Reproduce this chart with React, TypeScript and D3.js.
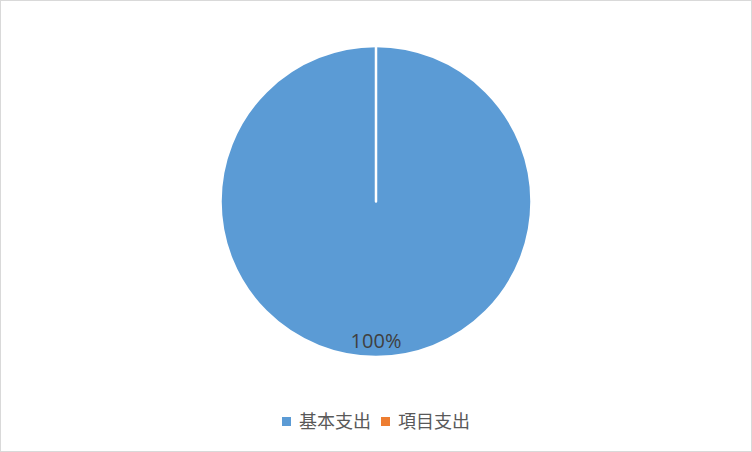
import * as d3 from 'd3'

// 数据
const categories = ['基本支出', '項目支出']
const values = [100, 0]
const colors = ['#5B9BD5', '#ED7D31']

const W = 752
const H = 452
const cx = 376
const cy = 201.5
const R = 155.5

export default function App(): JSX.Element {
  const pie = d3.pie<number>().sort(null).value(d => d)
  const arcs = pie(values)
  const arc = d3.arc<d3.PieArcDatum<number>>().innerRadius(0).outerRadius(R)
  const labelArc = d3.arc<d3.PieArcDatum<number>>().innerRadius(R * 0.9).outerRadius(R * 0.9)
  const total = d3.sum(values)

  // 凡例の位置
  const legendX = d3.scalePoint<string>().domain(categories).range([282, 381])

  return (
    <svg width={W} height={H} style={{ position: 'absolute', left: 0, top: 0, background: '#fff' }}
      fontFamily="'Noto Sans CJK TC', 'Noto Sans', sans-serif">
      <rect x={0.5} y={0.5} width={W - 1} height={H - 1} fill="#fff" stroke="#D9D9D9" />
      <g transform={`translate(${cx},${cy})`}>
        {arcs.map((a, i) => (
          <path key={i} d={arc(a) || ''} fill={colors[i]} stroke="#fff" strokeWidth={2.5} strokeLinejoin="round" />
        ))}
        {arcs.filter(a => a.value > 0).map((a, i) => {
          const [lx, ly] = labelArc.centroid(a)
          return (
            <text key={i} x={lx} y={ly} textAnchor="middle" dy="0.35em" fontSize={20}
              fill="#404040" fontFamily="'Open Sans', 'DejaVu Sans', sans-serif">
              {d3.format('.0%')(a.value / total)}
            </text>
          )
        })}
      </g>
      <g>
        {categories.map((c, i) => (
          <g key={c} transform={`translate(${legendX(c)},421.5)`}>
            <rect x={0} y={-4.5} width={9} height={9} fill={colors[i]} />
            <text x={17} y={0} dy="0.35em" fontSize={18} fill="#595959">{c}</text>
          </g>
        ))}
      </g>
    </svg>
  )
}
